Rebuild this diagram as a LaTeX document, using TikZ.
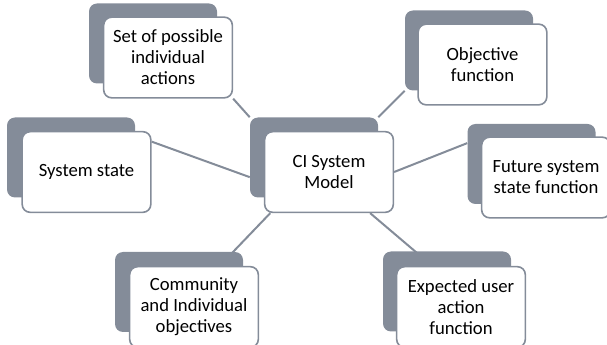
\documentclass[tikz,border=0pt]{standalone}
\usepackage{fontspec}
\setmainfont{Carlito}
\usetikzlibrary{backgrounds}
\definecolor{slate}{RGB}{132,140,153}
\tikzset{
  backbox/.style={fill=slate, rounded corners=6pt, minimum width=96pt, minimum height=60pt, inner sep=0pt},
  frontbox/.style={draw=slate, line width=1.2pt, fill=white, rounded corners=6pt, minimum width=96.5pt, minimum height=60.5pt, inner sep=0pt, align=center, font=\fontsize{14}{15.8}\selectfont},
  link/.style={draw=slate, line width=1.5pt}
}
\begin{document}
\begin{tikzpicture}[x=0.75pt,y=0.75pt,yscale=-1,xscale=1]
\useasboundingbox (0,0) rectangle (607,345);

%Centre: CI System Model
\node [backbox] (modelback) at (314,157.5) {};
\node [frontbox] (model) at (329,172) {CI System\\Model};

%Set of possible individual actions
\node [backbox] (actback) at (153,43.5) {};
\node [frontbox] (act) at (168,57.5) {Set of possible\\individual\\actions};

%System state
\node [backbox] (stateback) at (71,157.5) {};
\node [frontbox] (state) at (86.5,172) {System state};

%Objective function
\node [backbox] (objback) at (469,50.5) {};
\node [frontbox] (obj) at (482.5,64.5) {Objective\\function};

%Future system state function
\node [backbox] (futureback) at (531.5,164) {};
\node [frontbox] (future) at (546,177.5) {Future system\\state function};

%Community and Individual objectives
\node [backbox] (commback) at (179,292) {};
\node [frontbox] (comm) at (194,307) {Community\\and Individual\\objectives};

%Expected user action function
\node [backbox] (expectback) at (447,291.5) {};
\node [frontbox] (expect) at (461,307) {Expected user\\action\\function};

%Links
\begin{scope}[on background layer]
\draw [link] (act.south east) -- (modelback.north west);
\draw [link] (state.25) -- (modelback.197);
\draw [link] (modelback.north east) -- (objback.south west);
\draw [link] (model.east) -- (futureback.162);
\draw [link] (model.215) -- (comm.58);
\draw [link] (model.315) -- (expect.125);
\end{scope}

\end{tikzpicture}
\end{document}
